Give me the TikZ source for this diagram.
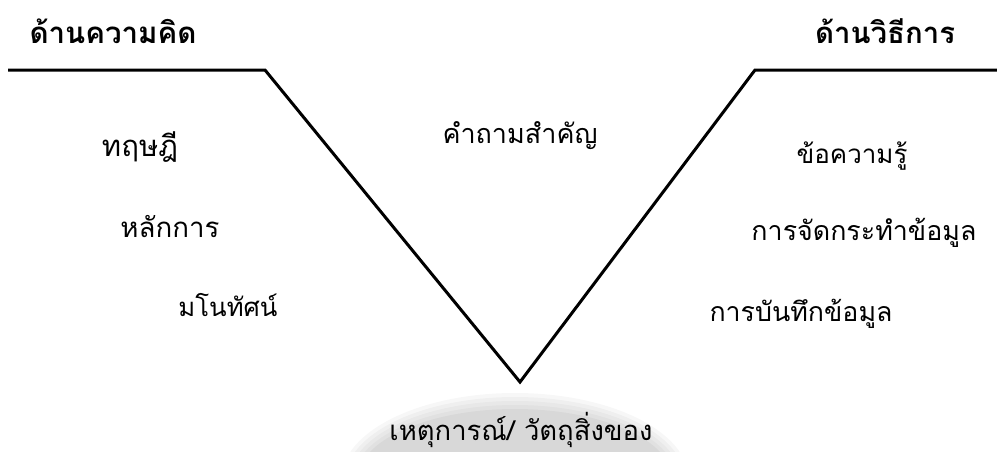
\documentclass[tikz,border=0pt]{standalone}
\usepackage{fontspec}
\usepackage{graphicx}
\newfontfamily\thaifont[Script=Thai]{Loma}
\begin{document}
\begin{tikzpicture}[x=1pt,y=-1pt,
  lbl/.style={font=\thaifont\fontsize{26}{30}\selectfont, inner sep=0pt, anchor=base},
  head/.style={font=\thaifont\bfseries\fontsize{26}{30}\selectfont, inner sep=0pt, anchor=base},
  vee/.style={line width=3pt, line join=miter},
  wm/.style={fill=black, draw=none}]
\useasboundingbox (0,0) rectangle (997,451);
\begin{scope}
\clip (0,0) rectangle (997,451);
\foreach \k/\o in {0/0.03,4/0.03,8/0.03,12/0.03,16/0.04}{
  \fill[wm, fill opacity=\o] (515,480) ellipse ({174-\k} and {87-\k});
}
\end{scope}
\coordinate (l0) at (8,70);
\coordinate (l1) at (265,70);
\coordinate (v) at (520,382);
\coordinate (r1) at (755,70);
\coordinate (r0) at (997,70);
\draw[vee] (l0) -- (l1) -- (v) -- (r1) -- (r0);
\node[head] (hl) at (113,43) {\resizebox{167pt}{!}{ด้านความคิด}};
\node[head] (hr) at (885,43) {\resizebox{140pt}{!}{ด้านวิธีการ}};
\node[lbl] (t1) at (140,156) {\resizebox{76pt}{!}{ทฤษฎี}};
\node[lbl] (t2) at (170,237) {\resizebox{99pt}{!}{หลักการ}};
\node[lbl] (t3) at (228,316) {\resizebox{99pt}{!}{มโนทัศน์}};
\node[lbl] (q) at (520,143) {\resizebox{155pt}{!}{คำถามสำคัญ}};
\node[lbl] (m1) at (852,163) {\resizebox{111pt}{!}{ข้อความรู้}};
\node[lbl] (m2) at (864,240) {\resizebox{225pt}{!}{การจัดกระทำข้อมูล}};
\node[lbl] (m3) at (801,321) {\resizebox{183pt}{!}{การบันทึกข้อมูล}};
\node[lbl] (e) at (521,440) {\resizebox{263pt}{!}{เหตุการณ์/ วัตถุสิ่งของ}};
\end{tikzpicture}
\end{document}
